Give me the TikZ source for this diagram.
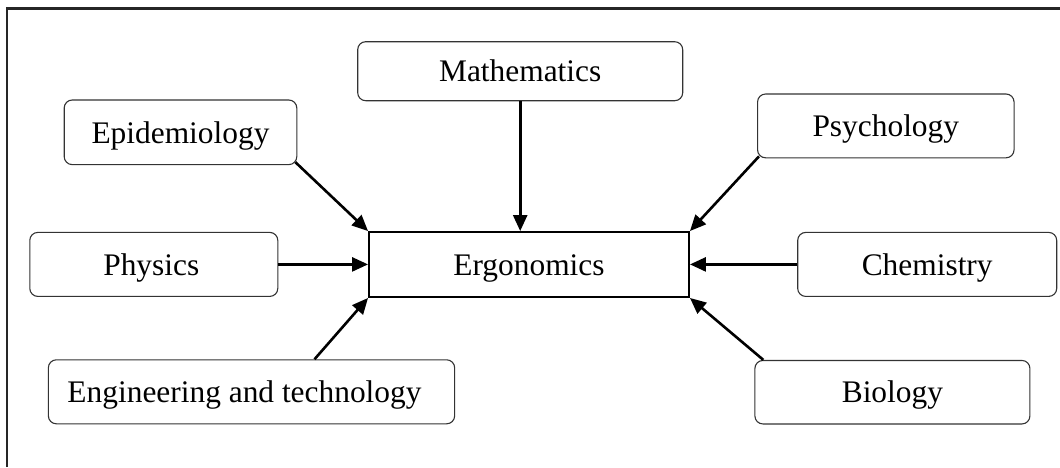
\documentclass[tikz,border=0pt]{standalone}
\usepackage{fontspec}
\setmainfont{Liberation Serif}
\usetikzlibrary{arrows.meta}
\begin{document}
\begin{tikzpicture}[x=1pt,y=-1pt,
  fld/.style={draw=black!80, line width=1.1pt, rounded corners=8pt, inner sep=0pt, text height=21.5pt, text depth=0pt, font=\fontsize{31.4}{36}\selectfont},
  core/.style={draw=black, line width=1.9pt, inner sep=0pt, text height=21.5pt, text depth=0pt, font=\fontsize{31.4}{36}\selectfont},
  link/.style={line width=2.6pt, -{Triangle[length=16pt,width=14pt]}}
]
\useasboundingbox (0,0) rectangle (1060,467);
\draw[line width=2.2pt, black!85] (6.8,467) -- (6.8,8.5) -- (1060,8.5);

\node[core, minimum width=320pt, minimum height=65pt] (erg) at (529,264.5) {Ergonomics};
\node[fld, minimum width=325pt, minimum height=59pt] (math) at (520.2,71.2) {Mathematics};
\node[fld, minimum width=232.6pt, minimum height=64.6pt] (epi) at (180.5,132.3) {Epidemiology};
\node[fld, minimum width=256.5pt, minimum height=63.8pt] (psy) at (885.8,125.9) {Psychology};
\node[fld, minimum width=248pt, minimum height=64pt] (phy) at (153.8,264.4) {Physics\rule{5pt}{0pt}};
\node[fld, minimum width=259pt, minimum height=64pt] (chem) at (927.2,264.4) {Chemistry};
\node[fld, minimum width=406.3pt, minimum height=64pt] (eng) at (251.5,391.8) {Engineering and technology\rule{14pt}{0pt}};
\node[fld, minimum width=275pt, minimum height=63.5pt] (bio) at (892.4,392.2) {Biology};

\draw[link] (math.south) -- (math.south |- erg.north);
\draw[link] ([shift={(-2,-3)}]epi.south east) -- (erg.north west);
\draw[link] ([shift={(2,-2)}]psy.south west) -- (erg.north east);
\draw[link] (phy.east) -- (phy.east -| erg.west);
\draw[link] (chem.west) -- (chem.west -| erg.east);
\draw[link] ([xshift=63pt]eng.north) -- (erg.south west);
\draw[link] ([xshift=9pt]bio.north west) -- (erg.south east);
\end{tikzpicture}
\end{document}
